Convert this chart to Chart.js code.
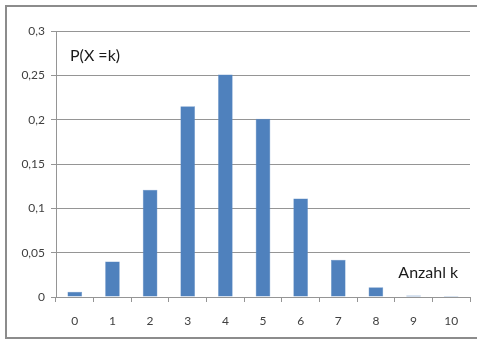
<!DOCTYPE html>
<html>
<head>
<meta charset="utf-8">
<script src="https://cdn.jsdelivr.net/npm/chart.js@4/dist/chart.umd.min.js"></script>
<style>
  html, body { margin: 0; padding: 0; background: #fff; }
  #wrap { position: relative; width: 477px; height: 342px; }
  #frame {
    position: absolute; left: 5px; top: 5px; width: 476px; height: 334px;
    border: 2px solid #8c8c8c; box-sizing: border-box;
  }
  canvas { position: absolute; left: 0; top: 0; }
</style>
</head>
<body>
<div id="wrap">
  <div id="frame"></div>
  <canvas id="chart" width="477" height="342"></canvas>
</div>
<script>
// Binomialverteilung, Werte
const categories = ['0', '1', '2', '3', '4', '5', '6', '7', '8', '9', '10'];
const probabilities = [0.006, 0.040, 0.121, 0.215, 0.251, 0.201, 0.111, 0.042, 0.011, 0.0016, 0.0001];
const yTicks = [0, 0.05, 0.1, 0.15, 0.2, 0.25, 0.3];

const fontFamily = 'Lato, "Open Sans", sans-serif';
const textColor = '#404040';
const gridColor = '#959595';

// Beschriftungen im Diagramm
const labelPlugin = {
    id: 'labels',
    afterDraw(chart) {
        const ctx = chart.ctx;
        const x = chart.scales.x;
        const y = chart.scales.y;
        ctx.save();
        ctx.fillStyle = '#1a1a1a';
        ctx.textBaseline = 'middle';
        ctx.font = '16px ' + fontFamily;
        ctx.textAlign = 'left';
        ctx.fillText('P(X =k)', chart.chartArea.left + 14, y.getPixelForValue(0.272));
        ctx.font = '16px ' + fontFamily;
        ctx.textAlign = 'right';
        ctx.fillText('Anzahl k', x.getPixelForValue(10) + 7, y.getPixelForValue(0.027));
        ctx.restore();
    }
};

const ctx = document.getElementById('chart').getContext('2d');
new Chart(ctx, {
    type: 'bar',
    data: {
        labels: categories,
        datasets: [{
            data: probabilities,
            backgroundColor: '#4f81bd',
            borderColor: '#6a94c8',
            borderWidth: 0.5,
            categoryPercentage: 1,
            barPercentage: 0.39
        }]
    },
    options: {
        responsive: false,
        animation: false,
        layout: { padding: { left: 0, right: 7, top: 31, bottom: 0 } },
        plugins: { legend: { display: false }, tooltip: { enabled: false } },
        scales: {
            x: {
                afterFit: s => { s.height = 45; },
                grid: {
                    offset: true,
                    drawOnChartArea: false,
                    tickLength: 5,
                    color: gridColor
                },
                border: { color: gridColor },
                ticks: {
                    padding: 12,
                    color: textColor,
                    font: { family: fontFamily, size: 12 }
                }
            },
            y: {
                min: 0,
                max: 0.3,
                afterFit: s => { s.width = 56; },
                afterBuildTicks: s => { s.ticks = yTicks.map(v => ({ value: v })); },
                grid: { color: gridColor, tickLength: 5 },
                border: { color: gridColor },
                ticks: {
                    padding: 6,
                    color: textColor,
                    font: { family: fontFamily, size: 12 },
                    callback: v => String(+v.toFixed(2)).replace('.', ',')
                }
            }
        }
    },
    plugins: [labelPlugin]
});
</script>
</body>
</html>
